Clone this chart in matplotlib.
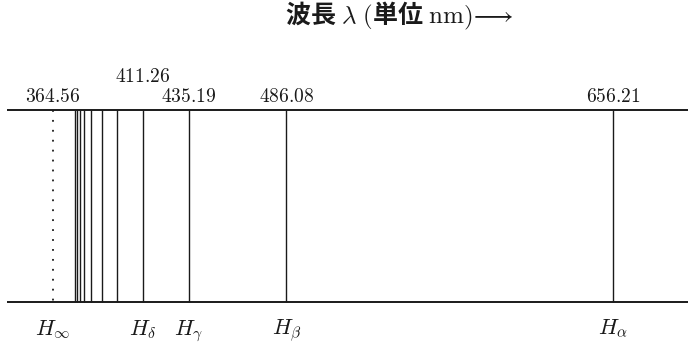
import matplotlib.pyplot as plt

plt.rcParams['mathtext.fontset'] = 'cm'

# Balmer lines (nm); labelled ones carry their wavelength as text
labelled_wl = [411.26, 435.19, 486.08, 656.21]
unlabelled_wl = [375.9, 377.2, 378.5, 380.7, 384.4, 390.1, 397.9]
limit_wl = 364.56
line_names = ['$H_\\delta$', '$H_\\gamma$', '$H_\\beta$', '$H_\\alpha$']
limit_name = '$H_\\infty$'

W, H = 688, 345
px_per_nm = 1.92
x_limit = 53  # pixel column of the series limit

fig = plt.figure(figsize=(W / 100, H / 100), dpi=100)
ax = fig.add_axes([0, 0, 1, 1])
ax.axis('off')
left = limit_wl - x_limit / px_per_nm
ax.set_xlim(left, left + W / px_per_nm)
ax.set_ylim(H, 0)

y_top, y_bot = 110, 302
ink = '#1a1a1a'

# frame of the spectrum strip
ax.hlines([y_top, y_bot], left + 7 / px_per_nm, left + W / px_per_nm,
          color=ink, lw=1.4)

# spectral lines
ax.vlines(labelled_wl + unlabelled_wl, y_top, y_bot, color=ink, lw=1.0)
ax.vlines(limit_wl, y_top, y_bot, color=ink, lw=1.3, linestyles=(0, (1, 4.5)))

# wavelength labels above
for wl in [limit_wl] + labelled_wl:
    y = 81.7 if wl == 411.26 else 101.7
    ax.text(wl, y, f'${wl:.2f}$', ha='center', va='baseline',
            fontsize=14, color=ink)

# line names below
for wl, name in zip([limit_wl] + labelled_wl, [limit_name] + line_names):
    ax.text(wl, 335, name, ha='center', va='baseline', fontsize=16, color=ink)

ax.text(left + 399 / px_per_nm, 23,
        '波長$\\;\\lambda\\ ($単位$\\;\\mathrm{nm})\\!\\longrightarrow$',
        ha='center', va='baseline', fontsize=18, color=ink,
        family='Noto Sans CJK JP', fontweight='bold')

fig.savefig('out.png', dpi=100)
